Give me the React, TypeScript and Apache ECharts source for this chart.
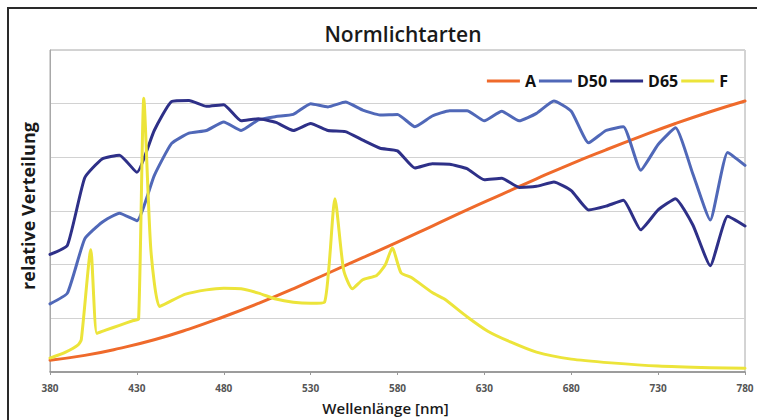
import React, { useEffect, useRef } from "react";
import * as echarts from "echarts";

// Wavelength grid for the daylight / incandescent curves (nm)
const wl10 = [380, 390, 400, 410, 420, 430, 440, 450, 460, 470, 480, 490, 500, 510, 520, 530, 540, 550, 560, 570, 580, 590, 600, 610, 620, 630, 640, 650, 660, 670, 680, 690, 700, 710, 720, 730, 740, 750, 760, 770, 780];

const d50 = [1.27, 1.47, 2.48, 2.79, 2.96, 2.82, 3.66, 4.26, 4.45, 4.5, 4.66, 4.5, 4.7, 4.76, 4.8, 5.0, 4.94, 5.03, 4.88, 4.79, 4.8, 4.57, 4.77, 4.87, 4.87, 4.68, 4.86, 4.68, 4.82, 5.05, 4.86, 4.27, 4.5, 4.57, 3.76, 4.24, 4.55, 3.69, 2.83, 4.09, 3.85];

const d65 = [2.19, 2.36, 3.62, 3.97, 4.04, 3.72, 4.5, 5.04, 5.06, 4.95, 4.98, 4.68, 4.72, 4.65, 4.5, 4.63, 4.5, 4.48, 4.32, 4.17, 4.12, 3.8, 3.88, 3.87, 3.79, 3.58, 3.61, 3.44, 3.46, 3.54, 3.38, 3.02, 3.09, 3.2, 2.65, 3.02, 3.23, 2.74, 1.98, 2.9, 2.72];

const aWl = [380, 400, 420, 440, 460, 480, 500, 520, 540, 560, 580, 600, 620, 640, 660, 680, 700, 720, 740, 760, 780];
const aVal = [0.22, 0.31, 0.44, 0.6, 0.8, 1.03, 1.28, 1.55, 1.84, 2.13, 2.42, 2.72, 3.02, 3.31, 3.6, 3.88, 4.14, 4.39, 4.63, 4.85, 5.05];

const fWl = [380, 389, 396, 398, 403.5, 407, 412, 420, 428, 431, 434, 438, 443, 450, 458, 470, 480, 490, 500, 510, 520, 530, 538, 544, 549, 554, 560, 568, 573, 577, 582, 588, 600, 607, 620, 632, 645, 660, 680, 703, 730, 760, 780];
const fVal = [0.26, 0.37, 0.5, 0.6, 2.28, 0.72, 0.78, 0.87, 0.96, 0.99, 5.1, 2.3, 1.22, 1.33, 1.45, 1.53, 1.56, 1.55, 1.47, 1.36, 1.3, 1.28, 1.3, 3.23, 1.9, 1.55, 1.72, 1.8, 2.0, 2.31, 1.85, 1.76, 1.48, 1.36, 1.03, 0.76, 0.56, 0.37, 0.24, 0.17, 0.11, 0.08, 0.07];

const xTicks = [380, 430, 480, 530, 580, 630, 680, 730, 780];
const seriesNames = ["A", "D50", "D65", "F"];
const seriesColors = ["#ef6a2b", "#5068b8", "#2e3088", "#ece43a"];

const X0 = 380; // axis offset so ticks begin at 380

function pairs(w: number[], v: number[]) {
  return w.map((x, i) => [x - X0, v[i]]);
}

export default function App() {
  const ref = useRef<HTMLDivElement>(null);
  useEffect(() => {
    if (!ref.current) return;
    const chart = echarts.init(ref.current, undefined, { renderer: "svg" });
    const font = "'Open Sans', 'DejaVu Sans', sans-serif";
    const lineSeries = (name: string, data: number[][], color: string, width: number, smooth: number | boolean) => ({
      name,
      type: "line",
      data,
      showSymbol: false,
      symbol: "none",
      smooth,
      lineStyle: { color, width, join: "round", cap: "round" },
      itemStyle: { color },
      z: 3,
    });
    chart.setOption({
      animation: false,
      backgroundColor: "#ffffff",
      title: {
        text: "Normlichtarten",
        left: 398,
        textAlign: "center",
        top: 18,
        textStyle: { fontFamily: font, fontSize: 21, fontWeight: 600, color: "#1a1a1a" },
      },
      legend: {
        data: seriesNames,
        right: 24,
        top: 68,
        itemWidth: 33,
        itemHeight: 3,
        itemGap: 3,
        icon: "rect",
        textStyle: { fontFamily: font, fontSize: 16, fontWeight: 700, color: "#111" },
      },
      grid: {
        left: 50,
        right: 12,
        top: 50,
        bottom: 43,
        show: true,
        borderColor: "#a8a8a8",
        borderWidth: 1,
        backgroundColor: "#ffffff",
      },
      xAxis: {
        type: "value",
        min: 0,
        max: 400,
        interval: 50,
        name: "Wellenlänge [nm]",
        nameLocation: "middle",
        nameGap: 28,
        nameTextStyle: { fontFamily: font, fontSize: 15, fontWeight: 600, color: "#1a1a1a", padding: [0, 24, 0, 0] },
        axisLine: { show: true, lineStyle: { color: "#8a8a8a", width: 1.5 } },
        axisTick: { show: true, length: 3, lineStyle: { color: "#999" } },
        splitLine: { show: false },
        axisLabel: {
          formatter: (v: number) => (xTicks.includes(v + X0) ? String(v + X0) : ""),
          fontFamily: font,
          fontSize: 10,
          fontWeight: 700,
          color: "#555",
          margin: 11,
        },
      },
      yAxis: {
        type: "value",
        min: 0,
        max: 6,
        interval: 1,
        name: "relative Verteilung",
        nameLocation: "middle",
        nameGap: 13,
        nameRotate: 90,
        nameTextStyle: { fontFamily: font, fontSize: 18, fontWeight: 700, color: "#1a1a1a", padding: [0, 0, 0, 10] },
        axisLine: { show: true, lineStyle: { color: "#a8a8a8" } },
        axisTick: { show: false },
        axisLabel: { show: false },
        splitLine: { show: true, lineStyle: { color: "#d2d2d2", width: 1 } },
      },
      graphic: [
        {
          type: "rect",
          shape: { x: 8, y: 8, width: 800, height: 500 },
          style: { fill: "none", stroke: "#2a2a2a", lineWidth: 2 },
          silent: true,
          z: 10,
        },
      ],
      series: [
        lineSeries("A", pairs(aWl, aVal), seriesColors[0], 3, true),
        lineSeries("D50", pairs(wl10, d50), seriesColors[1], 3, 0.15),
        lineSeries("D65", pairs(wl10, d65), seriesColors[2], 3, 0.15),
        lineSeries("F", pairs(fWl, fVal), seriesColors[3], 3, 0.2),
      ],
    });
    return () => chart.dispose();
  }, []);
  return (
    <div
      ref={ref}
      style={{ position: "fixed", left: 0, top: 0, width: 757, height: 420, background: "#fff" }}
    />
  );
}
